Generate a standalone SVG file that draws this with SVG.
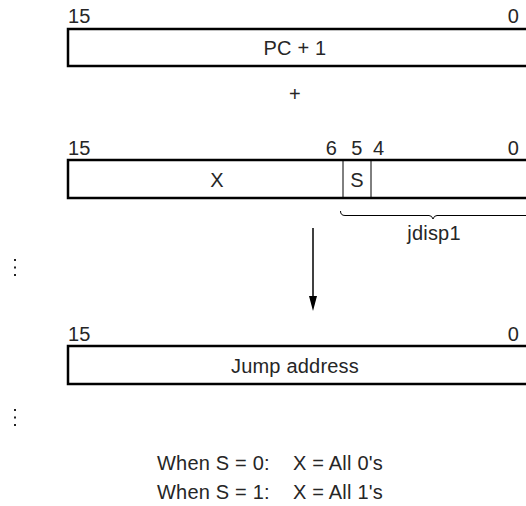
<svg xmlns="http://www.w3.org/2000/svg" width="526" height="506" viewBox="0 0 526 506">
<style>
text{font-family:"Liberation Sans",Arial,sans-serif;font-size:20px;fill:#262626;letter-spacing:0.2px}
.c{text-anchor:middle}
.r{text-anchor:end}
.box{fill:#fff;stroke:#000;stroke-width:2.5}
.div{stroke:#000;stroke-width:1}
.ln{stroke:#000;stroke-width:1;fill:none}
.dot{fill:#222}
</style>
<g id="reg-pc">
<text x="68" y="23">15</text>
<text x="519" y="23" class="r">0</text>
<rect class="box" x="68" y="29" width="470" height="37"/>
<text x="295" y="55" class="c">PC + 1</text>
</g>
<g id="plus">
<text x="295" y="101" class="c">+</text>
</g>
<g id="reg-instr">
<text x="68" y="155">15</text>
<text x="337" y="155" class="r">6</text>
<text x="357" y="155" class="c">5</text>
<text x="373" y="155">4</text>
<text x="519" y="155" class="r">0</text>
<rect class="box" x="68" y="160" width="470" height="38"/>
<line class="div" x1="343" y1="161" x2="343" y2="197"/>
<line class="div" x1="371" y1="161" x2="371" y2="197"/>
<text x="217" y="187" class="c">X</text>
<text x="357" y="187" class="c">S</text>
</g>
<g id="brace">
<path class="ln" d="M340.5,211 Q340.5,215.5 345,215.5 L429,215.5 Q432,215.5 433,219 Q434,215.5 437,215.5 L526,215.5"/>
<text x="434" y="240" class="c">jdisp1</text>
</g>
<g id="dots1">
<rect class="dot" x="14" y="259" width="2" height="2"/>
<rect class="dot" x="14" y="266.5" width="2" height="2"/>
<rect class="dot" x="14" y="274" width="2" height="2"/>
</g>
<g id="connectors">
<line x1="313" y1="228" x2="313" y2="297" stroke="#000" stroke-width="1.5"/>
<path d="M309,296 L317,296 L313,311 Z" fill="#000"/>
</g>
<g id="reg-jump">
<text x="68" y="341">15</text>
<text x="519" y="341" class="r">0</text>
<rect class="box" x="68" y="346" width="470" height="38"/>
<text x="295" y="373" class="c">Jump address</text>
</g>
<g id="dots2">
<rect class="dot" x="14" y="409" width="2" height="2"/>
<rect class="dot" x="14" y="416.5" width="2" height="2"/>
<rect class="dot" x="14" y="424" width="2" height="2"/>
</g>
<g id="note">
<text x="157" y="470">When S = 0:</text>
<text x="293" y="470">X = All 0's</text>
<text x="157" y="499">When S = 1:</text>
<text x="293" y="499">X = All 1's</text>
</g>
</svg>
